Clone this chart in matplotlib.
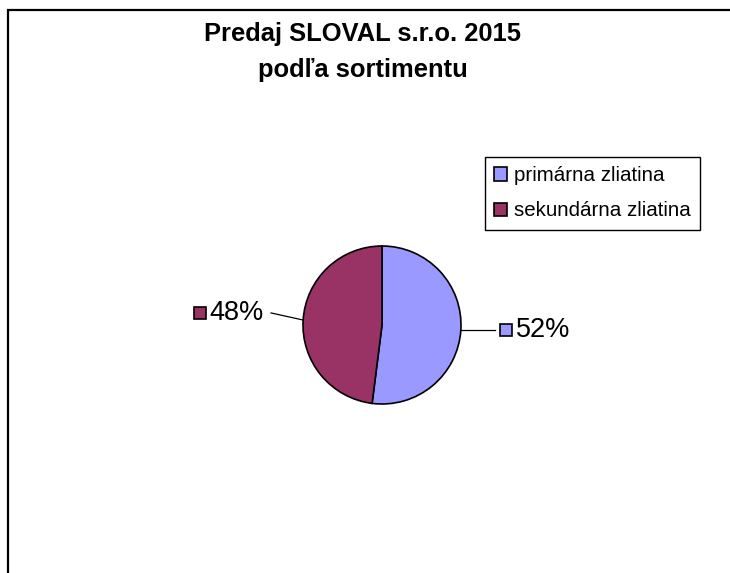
import matplotlib
matplotlib.use("Agg")
import matplotlib.pyplot as plt
import numpy as np
from matplotlib.patches import Patch, Rectangle

plt.rcParams["font.family"] = ["Liberation Sans", "DejaVu Sans"]

categories = ["primárna zliatina", "sekundárna zliatina"]
shares = [52, 48]
colors = ["#9999FF", "#993366"]
title_lines = ["Predaj SLOVAL s.r.o. 2015", "podľa sortimentu"]

W, H = 730, 573
fig = plt.figure(figsize=(W / 100, H / 100), dpi=100)

# outer chart frame (runs off the right and bottom edge)
fig.patches.append(Rectangle((8 / W, -0.1), 1.2, 1.1 - 10 / H, transform=fig.transFigure,
                             fill=False, edgecolor="black", linewidth=1.6))

for line, base in zip(title_lines, [41, 77]):
    fig.text(363 / W, 1 - base / H, line, ha="center", va="baseline",
             fontsize=18.4, fontweight="bold")

# pie centered at (382, 325) px, radius 79 px
cx, cy, r = 382, 325, 79
ax = fig.add_axes([(cx - r) / W, (H - cy - r) / H, 2 * r / W, 2 * r / H])
wedges, _ = ax.pie(shares, colors=colors, startangle=90, counterclock=False,
                   wedgeprops=dict(edgecolor="black", linewidth=1.2))
ax.set_xlim(-1, 1)
ax.set_ylim(-1, 1)
ax.set_aspect("equal")

# label layout: leader end, square position, text position (in pie radii)
leader_end = [(1.43, 0.0), (-1.405, 0.09)]
square_x = [1.57, -2.31]
text_x = [1.69, -2.19]

for w, pct, col, le, sx, tx in zip(wedges, shares, colors, leader_end, square_x, text_x):
    ang = np.deg2rad((w.theta1 + w.theta2) / 2)
    ax0, ay0 = np.cos(ang), np.sin(ang)
    ex = le[0]
    ey = ay0 + le[1]
    ax.plot([ax0, ex], [ay0, ey], color="black", linewidth=0.9, clip_on=False)
    ax.plot([sx], [ey], marker="s", markersize=8.8, markerfacecolor=col,
            markeredgecolor="black", markeredgewidth=1.2, clip_on=False)
    ax.text(tx, ey, f"{pct}%", ha="left", va="center", fontsize=19.5, clip_on=False)

handles = [Patch(facecolor=c, edgecolor="black", linewidth=1.2) for c in colors]
leg = fig.legend(handles, categories, loc="upper left",
                 bbox_to_anchor=(485 / W, 1 - 157 / H), fontsize=14.8,
                 frameon=True, fancybox=False, edgecolor="black", framealpha=1,
                 handlelength=0.6, handleheight=0.6, handletextpad=0.35,
                 labelspacing=0.79, borderpad=0.45, borderaxespad=0)
leg.get_frame().set_linewidth(1.0)

fig.savefig("out.png", dpi=100)
